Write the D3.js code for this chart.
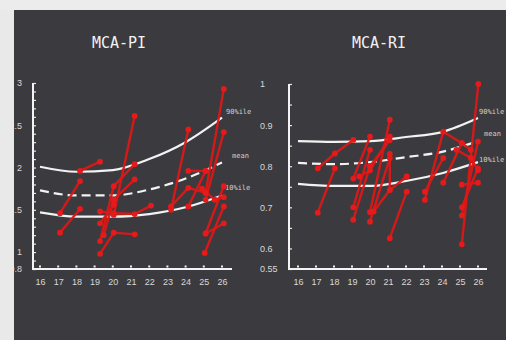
<!DOCTYPE html>
<html><head><meta charset="utf-8">
<script src="https://cdn.jsdelivr.net/npm/d3@7"></script>
<style>html,body{margin:0;padding:0;background:#e9e9e9;}svg{display:block;}</style>
</head><body>
<svg id="c" width="506" height="340"></svg>
<script>
// ---- data ----
const ages = [16, 18, 20, 22, 24, 26];
const xTicks = [16, 17, 18, 19, 20, 21, 22, 23, 24, 25, 26];

const piP90  = [2.01, 1.95, 1.97, 2.10, 2.30, 2.59];
const piMean = [1.73, 1.67, 1.67, 1.74, 1.87, 2.06];
const piP10  = [1.47, 1.42, 1.42, 1.45, 1.53, 1.67];
const piTickLabels = [0.8, 1, 1.5, 2, 2.5, 3];

const riP90  = [0.861, 0.859, 0.861, 0.871, 0.883, 0.917];
const riMean = [0.808, 0.805, 0.810, 0.822, 0.835, 0.861];
const riP10  = [0.757, 0.752, 0.752, 0.764, 0.783, 0.810];
const riTickLabels = [0.55, 0.6, 0.7, 0.8, 0.9, 1];

// patient trajectories [age, value]
const piPatients = [
  [[17.1,1.46],[18.2,1.84]],
  [[17.1,1.23],[18.2,1.51]],
  [[18.2,1.96],[19.3,2.07]],
  [[19.3,0.98],[20.05,1.23],[21.2,1.21]],
  [[19.3,1.13],[20.05,1.78],[21.2,2.04]],
  [[19.3,1.34],[20.05,1.56]],
  [[19.3,1.48],[20.05,1.46],[21.2,1.45],[22.1,1.55]],
  [[20.05,1.44],[21.2,2.61]],
  [[19.5,1.20],[20.05,1.62],[21.2,1.86]],
  [[23.2,1.50],[24.15,2.45]],
  [[23.2,1.54],[24.15,1.76],[25.1,1.70]],
  [[24.15,1.96],[25.1,1.96]],
  [[24.15,1.54],[25.1,1.96]],
  [[25.1,1.70],[26.1,2.93]],
  [[25.1,1.62],[26.1,2.42]],
  [[25.05,0.99],[26.1,1.54]],
  [[25.1,1.22],[26.1,1.78]],
  [[25.1,1.22],[26.1,1.34]],
  [[24.9,1.75],[25.6,1.62],[26.1,1.65]]
];
const riPatients = [
  [[17.1,0.687],[18.05,0.795]],
  [[17.1,0.795],[18.05,0.831],[19.07,0.864]],
  [[19.07,0.67],[20,0.80]],
  [[19.07,0.70],[20,0.84]],
  [[19.07,0.77],[20,0.872]],
  [[19.4,0.775],[20,0.79],[21.1,0.872]],
  [[20,0.665],[21.1,0.82]],
  [[20,0.688],[21.1,0.913]],
  [[20.2,0.69],[21.1,0.742],[21.1,0.83]],
  [[20,0.80],[21.1,0.863]],
  [[21.1,0.625],[22.04,0.738]],
  [[21.1,0.742],[22.04,0.775]],
  [[23.05,0.718],[24.07,0.884],[25.1,0.856]],
  [[23.05,0.738],[24.07,0.82]],
  [[24.07,0.76],[25.1,0.856],[25.6,0.84]],
  [[25.1,0.61],[26.02,1.0]],
  [[25.1,0.68],[26,0.86]],
  [[25.1,0.70],[26,0.795]],
  [[25.1,0.755],[26,0.76]],
  [[24.8,0.84],[25.6,0.82],[26,0.79]]
];

// ---- drawing ----
const svg = d3.select('#c');
svg.append('rect').attr('x',14).attr('y',10).attr('width',492).attr('height',330).attr('fill','#3b3b3f');

function panel(o) {
  const g = svg.append('g');
  const x = d3.scaleLinear().domain([16,26]).range(o.xr);
  const y = d3.scaleLinear().domain(o.yd).range(o.yr);
  // title
  g.append('text').attr('x',o.tx).attr('y',48).attr('text-anchor','middle')
    .attr('font-family','DejaVu Sans Mono').attr('font-size',15).attr('fill','#f2f2f2').text(o.title);
  // minor y ticks
  const minor = d3.range(o.yd[0], o.yd[1]+1e-9, o.minorStep);
  g.append('g').attr('transform',`translate(${o.ax},0)`)
    .call(d3.axisRight(y).tickValues(minor).tickSize(3).tickFormat(''))
    .call(s => { s.select('.domain').remove(); s.selectAll('line').attr('stroke','#e8e8e8').attr('stroke-width',1.2); });
  // y labels
  g.append('g').attr('transform',`translate(${o.lx},0)`)
    .call(d3.axisLeft(y).tickValues(o.labels).tickSize(0).tickFormat(d3.format(o.fmt)))
    .call(s => { s.select('.domain').remove(); s.selectAll('text').attr('fill','#d8d8d8').attr('font-size',9).attr('font-family','Liberation Sans').attr('text-anchor',o.anchor).attr('dx',0); });
  // x labels and tick dots
  g.append('g').attr('transform',`translate(0,${o.yr[0]})`)
    .call(d3.axisBottom(x).tickValues(xTicks).tickSize(0).tickPadding(10).tickFormat(d3.format('d')))
    .call(s => { s.select('.domain').remove(); s.selectAll('text').attr('fill','#d8d8d8').attr('font-size',9).attr('font-family','Liberation Sans'); });
  g.selectAll('rect.xt').data(xTicks).enter().append('rect')
    .attr('x', d => x(d)-1).attr('y', o.yr[0]-3.5).attr('width',2).attr('height',2).attr('fill','#f0f0f0');
  // axes lines
  g.append('path').attr('d',`M${o.ax},${o.axTop}V${o.yr[0]}H${o.axRight}`)
    .attr('fill','none').attr('stroke','#f4f4f4').attr('stroke-width',2);
  // reference curves
  const line = d3.line().x((d,i)=>x(ages[i])).y(d=>y(d)).curve(d3.curveMonotoneX);
  [[o.p90,null],[o.mean,'9,5'],[o.p10,null]].forEach(([arr,dash]) => {
    g.append('path').attr('d', line(arr)).attr('fill','none').attr('stroke','#f2f2f2')
      .attr('stroke-width',2.2).attr('stroke-dasharray',dash);
  });
  // curve labels
  o.curveLabels.forEach(c => {
    g.append('text').attr('x',c[0]).attr('y',c[1]).attr('font-family','DejaVu Sans Mono')
      .attr('font-size',7).attr('fill','#d0d0d0').text(c[2]);
  });
  // patient lines
  const pl = d3.line().x(d=>x(d[0])).y(d=>y(d[1]));
  g.selectAll('path.pt').data(o.patients).enter().append('path')
    .attr('d', pl).attr('fill','none').attr('stroke','#dc1717').attr('stroke-width',2.4).attr('opacity',0.95);
  g.selectAll('circle.pt').data(o.patients.flat()).enter().append('circle')
    .attr('cx', d=>x(d[0])).attr('cy', d=>y(d[1])).attr('r',2.9).attr('fill','#e61a1a');
}

panel({title:'MCA-PI', tx:119, xr:[40,222], yd:[0.8,3], yr:[269,83], ax:33, axTop:83, axRight:232,
  minorStep:0.1, labels:piTickLabels, fmt:'', lx:25, anchor:'end',
  p90:piP90, mean:piMean, p10:piP10, patients:piPatients,
  curveLabels:[[226,114,'90%ile'],[232,158,'mean'],[225,190,'10%ile']]});
panel({title:'MCA-RI', tx:379, xr:[298,478], yd:[0.55,1], yr:[269,84], ax:289, axTop:84, axRight:487,
  minorStep:0.05, labels:riTickLabels, fmt:'', lx:263, anchor:'start',
  p90:riP90, mean:riMean, p10:riP10, patients:riPatients,
  curveLabels:[[479,114,'90%ile'],[484,136,'mean'],[479,162,'10%ile']]});

// light border strips (clip left labels as in reference)
svg.append('rect').attr('x',0).attr('y',0).attr('width',14).attr('height',340).attr('fill','#e9e9e9');
svg.append('rect').attr('x',0).attr('y',0).attr('width',506).attr('height',10).attr('fill','#ececec');
</script>
</body></html>
